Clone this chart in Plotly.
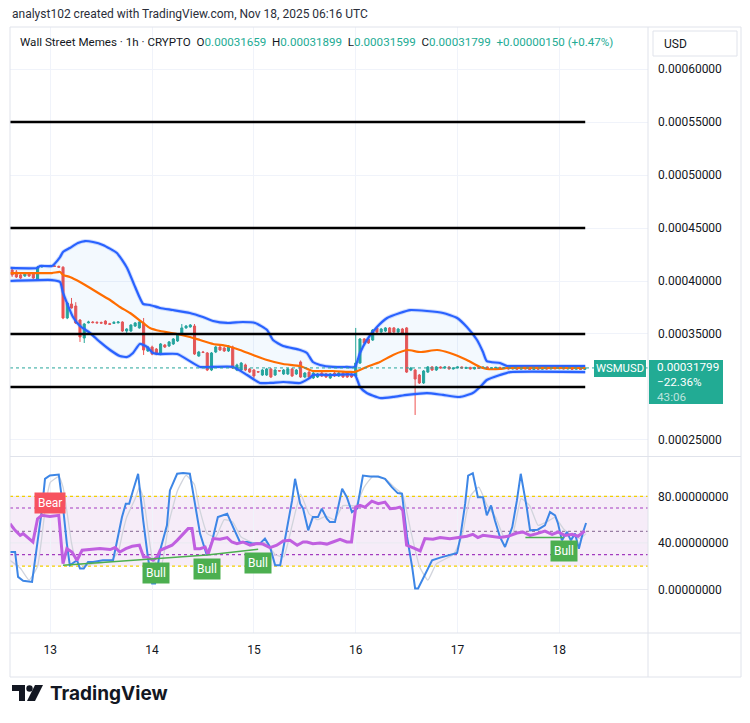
import plotly.graph_objects as go

# ---------------------------------------------------------------- data
# Hourly candles. Hour 0 = 13 Nov 2025 00:00 UTC. Prices in units of 1e-7 USD.
PRICE_UNIT = 1e-7
first_hour = -9

open_e7 = [
    4104, 4085, 4057, 4047, 4075, 4066, 4009, 4132, 4137, 4140,
    4142, 4138, 4130, 3651, 3783, 3764, 3632, 3462, 3605, 3613,
    3610, 3608, 3622, 3596, 3600, 3605, 3613, 3528, 3528, 3575,
    3557, 3604, 3340, 3377, 3358, 3311, 3396, 3387, 3406, 3434,
    3491, 3557, 3566, 3575, 3292, 3330, 3321, 3160, 3330, 3377,
    3368, 3340, 3377, 3160, 3160, 3208, 3170, 3160, 3145, 3113,
    3113, 3170, 3113, 3155, 3123, 3123, 3170, 3123, 3236, 3094,
    3141, 3085, 3094, 3132, 3123, 3085, 3132, 3104, 3132, 3132,
    3123, 3104, 3226, 3453, 3453, 3443, 3557, 3519, 3528, 3557,
    3557, 3519, 3547, 3557, 3160, 3160, 3113, 3038, 3141, 3189,
    3160, 3189, 3179, 3189, 3170, 3179, 3189, 3175, 3185, 3170,
    3185, 3175, 3189, 3170, 3179, 3185, 3175, 3182, 3170, 3180,
    3168, 3182, 3175, 3165, 3179, 3168, 3180, 3170, 3182, 3172,
    3183, 3170, 3178, 3168, 3176, 3165.9]
high_e7 = [
    4123, 4104, 4066, 4085, 4085, 4075, 4142, 4145, 4150, 4152,
    4150, 4145, 4140, 3800, 3840, 3800, 3640, 3604, 3625, 3622,
    3620, 3618, 3630, 3605, 3620, 3622, 3620, 3555, 3592, 3613,
    3622, 3651, 3385, 3390, 3368, 3415, 3406, 3434, 3462, 3500,
    3594, 3585, 3594, 3594, 3340, 3340, 3330, 3330, 3390, 3390,
    3380, 3396, 3390, 3220, 3236, 3220, 3180, 3170, 3150, 3170,
    3180, 3180, 3170, 3160, 3170, 3180, 3180, 3170, 3250, 3141,
    3150, 3141, 3132, 3141, 3132, 3132, 3141, 3141, 3141, 3141,
    3132, 3557, 3462, 3462, 3462, 3547, 3566, 3557, 3566, 3566,
    3566, 3557, 3557, 3566, 3189, 3170, 3123, 3160, 3198, 3198,
    3198, 3195, 3195, 3195, 3186, 3195, 3194, 3190, 3190, 3190,
    3190, 3194, 3194, 3185, 3190, 3190, 3188, 3188, 3186, 3185,
    3188, 3187, 3180, 3185, 3184, 3186, 3185, 3188, 3187, 3188,
    3188, 3184, 3183, 3182, 3181, 3189.9]
low_e7 = [
    4038, 4028, 4019, 4038, 4038, 4019, 4000, 4128, 4132, 4135,
    4132, 4125, 3640, 3640, 3740, 3594, 3425, 3415, 3600, 3600,
    3598, 3596, 3588, 3588, 3596, 3600, 3520, 3510, 3520, 3566,
    3550, 3302, 3330, 3300, 3300, 3300, 3368, 3377, 3396, 3425,
    3485, 3550, 3560, 3302, 3285, 3320, 3150, 3150, 3320, 3340,
    3330, 3330, 3170, 3150, 3150, 3150, 3132, 3085, 3135, 3104,
    3104, 3085, 3104, 3145, 3113, 3113, 3094, 3113, 3085, 3085,
    3085, 3075, 3085, 3094, 3085, 3075, 3094, 3094, 3085, 3085,
    3085, 3094, 3217, 3406, 3406, 3434, 3510, 3510, 3519, 3500,
    3510, 3510, 3500, 3132, 3150, 2736, 3028, 3028, 3132, 3151,
    3151, 3175, 3172, 3165, 3165, 3175, 3172, 3170, 3165, 3166,
    3170, 3170, 3165, 3165, 3175, 3170, 3170, 3165, 3166, 3163,
    3164, 3166, 3160, 3160, 3163, 3164, 3165, 3166, 3168, 3168,
    3166, 3166, 3163, 3164, 3161, 3159.9]
close_e7 = [
    4057, 4038, 4028, 4075, 4047, 4028, 4132, 4137, 4141, 4142,
    4138, 4130, 3651, 3792, 3745, 3604, 3472, 3594, 3613, 3608,
    3605, 3603, 3594, 3592, 3610, 3613, 3528, 3547, 3585, 3604,
    3613, 3349, 3377, 3311, 3311, 3406, 3377, 3425, 3453, 3491,
    3557, 3575, 3585, 3311, 3330, 3326, 3160, 3321, 3377, 3349,
    3340, 3387, 3179, 3208, 3226, 3160, 3141, 3104, 3141, 3160,
    3170, 3094, 3160, 3151, 3160, 3170, 3104, 3160, 3094, 3132,
    3094, 3132, 3123, 3104, 3094, 3123, 3104, 3132, 3094, 3094,
    3094, 3226, 3453, 3415, 3415, 3538, 3519, 3547, 3557, 3509,
    3519, 3547, 3509, 3141, 3179, 3075, 3038, 3151, 3189, 3160,
    3189, 3179, 3189, 3170, 3179, 3189, 3179, 3185, 3170, 3185,
    3175, 3189, 3170, 3179, 3185, 3175, 3182, 3170, 3180, 3168,
    3182, 3170, 3165, 3179, 3168, 3180, 3170, 3182, 3172, 3183,
    3170, 3178, 3168, 3176, 3166, 3179.9]

# Bollinger Bands (20, 2), (hour, price e7)
bb_upper_hours = [-9.5, -3.1, -2.4, 0.4, 2.3, 3.0, 4.6, 6.5, 8.2, 10.1, 12.4, 15.7, 18.1,
                  20.0, 21.9, 23.5, 25.9, 28.9, 32.9, 36.0, 38.4, 41.7, 45.4, 48.3, 51.1,
                  52.5, 54.9, 58.9, 60.5, 61.9, 63.6, 66.6, 69.9, 71.8, 73.0, 74.6, 77.0,
                  79.4, 82.4, 84.8, 88.8, 92.6, 95.9, 98.2, 100.6, 102.0, 102.9, 106.0,
                  107.7, 109.1, 126.1]
bb_upper = [4123, 4123, 4142, 4142, 4226, 4274, 4311, 4358, 4377, 4368, 4340, 4264, 4123,
            3943, 3783, 3774, 3745, 3726, 3698, 3660, 3623, 3604, 3613, 3604, 3538,
            3443, 3387, 3349, 3321, 3236, 3208, 3189, 3189, 3189, 3321, 3443, 3566,
            3651, 3698, 3726, 3717, 3698, 3651, 3566, 3443, 3330, 3245, 3226,
            3198, 3198, 3198]
bb_basis_hours = [-9.5, 0.4, 2.3, 3.0, 4.6, 7.0, 9.4, 11.7, 14.1, 16.4, 18.8, 21.9, 23.5,
                  25.9, 29.9, 32.9, 35.3, 38.4, 41.7, 44.7, 47.8, 51.1, 54.9, 58.9, 61.9,
                  66.6, 70.7, 71.8, 74.6, 77.7, 80.8, 84.1, 87.2, 91.2, 94.2, 98.2, 101.3,
                  102.9, 106.0, 107.7, 126.1]
bb_basis = [4075, 4075, 4085, 4057, 4038, 3991, 3934, 3877, 3821, 3755, 3698, 3604, 3557,
            3528, 3500, 3472, 3443, 3406, 3387, 3349, 3302, 3255, 3217, 3198, 3151,
            3151, 3142, 3142, 3189, 3236, 3302, 3349, 3330, 3349, 3321, 3255, 3189,
            3170, 3170, 3179, 3179]
bb_lower_hours = [-9.5, 0.4, 2.3, 3.0, 5.35, 7.0, 9.4, 11.7, 14.1, 16.4, 18.1, 19.5, 21.1,
                  22.8, 24.2, 25.9, 29.9, 35.3, 38.4, 43.1, 46.4, 49.4, 51.8, 54.9, 58.9,
                  61.2, 61.9, 66.2, 71.8, 73.0, 74.6, 77.7, 80.8, 84.1, 88.8, 92.6, 96.6,
                  99.6, 101.3, 102.9, 106.0, 108.4, 126.1]
bb_lower = [4000, 4009, 3991, 3887, 3660, 3575, 3509, 3425, 3349, 3292, 3283, 3321, 3406,
            3377, 3321, 3311, 3311, 3189, 3189, 3189, 3113, 3038, 3038, 3047, 3038,
            3085, 3113, 3113, 3113, 3000, 2943, 2896, 2906, 2925, 2943, 2925, 2906,
            2943, 3000, 3066, 3113, 3141, 3141]

# horizontal levels drawn on the chart
level_prices = [0.00055, 0.00045, 0.00035, 0.00030]
level_start_hour, level_end_hour = -9.5, 126.1

# RSI (14)
rsi_hours = [-9.5, -8.3, -7.1, -6.4, -5.3, -4.1, -3.0, -2.0, -0.1, 2.0, 3.0, 3.9, 5.1, 6.3,
             7.5, 8.9, 11.7, 14.1, 15.3, 16.4, 17.8, 19.3, 21.0, 22.0, 22.8, 24.2, 25.2,
             25.9, 27.5, 28.7, 29.9, 31.0, 32.5, 33.4, 34.1, 35.3, 36.5, 37.2, 38.4, 40.0,
             41.7, 42.8, 44.0, 45.4, 47.1, 48.7, 50.1, 51.8, 53.4, 54.9, 56.5, 58.2, 59.6,
             60.5, 61.9, 63.6, 65.2, 66.6, 68.3, 69.9, 71.0, 72.0, 73.0, 74.2, 75.8, 77.3,
             78.9, 80.1, 81.3, 82.4, 83.1, 84.0, 84.8, 86.0, 87.2, 88.3, 90.2, 91.9, 94.2,
             96.6, 98.2, 99.6, 100.8, 102.0, 103.6, 106.0, 107.9, 110.0, 111.4, 113.1,
             114.7, 116.6, 118.3, 119.7, 121.3, 123.0, 124.4, 126.0]
rsi_values = [56.5, 50.8, 46.5, 48.0, 44.6, 40.8, 60.8, 63.7, 62.8, 63.7, 22.3, 35.1, 32.2, 25.1,
              33.7, 34.3, 35.1, 34.3, 36.0, 32.2, 35.1, 37.1, 38.0, 27.9, 27.9, 25.1, 27.9,
              33.7, 36.0, 38.0, 42.2, 46.5, 52.3, 52.3, 35.1, 35.1, 36.5, 30.2, 43.7, 43.1,
              44.6, 40.8, 39.4, 40.8, 38.0, 39.4, 39.0, 36.0, 38.0, 41.7, 42.2, 38.0, 40.8,
              40.8, 39.4, 40.0, 39.0, 40.8, 43.1, 40.8, 40.8, 70.8, 72.2, 70.8, 75.9, 73.7,
              75.1, 69.4, 69.7, 70.8, 68.0, 38.0, 37.1, 35.1, 33.1, 43.7, 43.1, 44.6, 43.7,
              44.6, 45.7, 47.4, 44.6, 46.5, 45.7, 44.6, 45.7, 48.5, 49.4, 46.5,
              48.0, 50.2, 47.4, 49.4, 46.5, 47.4, 45.7, 50.2]

# Stochastic RSI %K and %D
stoch_k_hours = [-9.5, -8.3, -7.6, -6.4, -4.3, -2.9, -2.0, -1.25, -0.1, 2.0, 3.0, 3.9, 4.6, 6.3,
                 7.0, 7.9, 8.9, 10.1, 12.4, 14.8, 15.7, 16.9, 17.8, 18.6, 19.5, 20.7, 21.9,
                 23.0, 24.0, 24.7, 25.9, 27.5, 28.2, 29.9, 31.3, 32.9, 34.1, 35.3, 36.9, 38.1,
                 39.5, 41.7, 43.1, 44.7, 46.4, 47.8, 49.4, 50.6, 51.8, 53.0, 54.2, 55.8, 57.0,
                 57.7, 58.9, 59.6, 60.8, 61.9, 63.1, 64.0, 65.2, 65.9, 67.1, 68.8, 69.9, 71.1,
                 72.3, 73.7, 75.4, 77.3, 78.9, 80.5, 81.9, 82.9, 84.1, 85.3, 86.0, 86.7, 88.3,
                 90.0, 91.9, 93.8, 95.9, 96.6, 97.8, 98.5, 99.6, 100.8, 102.0, 102.9, 103.9,
                 104.8, 106.0, 107.2, 108.9, 110.0, 110.9, 112.3, 113.1, 114.9, 116.6, 117.8,
                 119.0, 119.7, 120.6, 121.8, 122.7, 123.7, 124.6, 125.6, 126.3]
stoch_k = [32.2, 32.2, 10.8, 7.4, 6.5, 45.1, 68.0, 95.1, 97.9, 98.8, 70.8, 39.4, 20.8, 25.1,
           18.0, 18.0, 23.7, 23.7, 25.1, 25.1, 42.2, 62.2, 73.7, 73.7, 85.1, 99.4, 59.4,
           27.9, 5.1, 5.1, 33.7, 55.1, 85.1, 99.4, 100.0, 99.4, 73.7, 48.0, 29.4, 40.8,
           62.2, 65.1, 53.6, 40.8, 40.8, 39.4, 39.4, 43.7, 36.5, 20.8, 20.8, 53.6, 76.5,
           95.1, 73.7, 69.4, 50.8, 62.2, 62.2, 69.4, 60.8, 57.9, 57.9, 86.5, 79.3, 66.5,
           69.4, 97.9, 97.1, 97.1, 95.1, 87.9, 82.8, 82.3, 45.1, 19.4, 0.9, 0.9, 12.3,
           25.1, 27.4, 29.4, 31.4, 43.7, 73.7, 97.9, 99.9, 79.3, 79.3, 63.7, 72.2,
           59.4, 45.1, 36.5, 53.6, 76.5, 99.4, 70.8, 50.8, 51.4, 55.1, 66.5,
           63.7, 56.5, 42.2, 49.4, 42.2, 48.0, 35.1, 49.4, 57.1]
stoch_d_hours = [-9.5, -7, -5, -3, -2, -1, 0, 2, 3, 4, 5, 6, 8, 10, 14, 16, 17, 18, 20, 21, 22,
                 23, 24, 26, 27, 28, 30, 32, 34, 35, 37, 39, 41, 43, 45, 48, 51, 53, 55, 57,
                 59, 61, 63, 65, 67, 69, 71, 72, 74, 76, 79, 81, 83, 85, 87, 89, 91, 95, 97,
                 99, 101, 103, 105, 107, 109, 111, 113, 115, 117, 119, 121, 123, 125, 126.3]
stoch_d = [25, 18, 8, 20, 45, 75, 92, 97, 88, 65, 40, 25, 20, 22, 24, 32, 48, 62, 78, 88, 78,
           52, 28, 18, 35, 58, 85, 98, 90, 72, 48, 45, 60, 58, 45, 40, 40, 30, 28, 55,
           82, 65, 60, 63, 60, 72, 72, 72, 88, 97, 95, 88, 82, 50, 20, 8, 22, 30, 45,
           80, 88, 72, 62, 45, 48, 78, 72, 55, 58, 62, 52, 46, 44, 48]

# Divergence marks: pivot lines and label pivots (hour, RSI value)
bull_line_hours = [3, 25, 37, 49]
bull_line_values = [20.8, 26.6, 29.6, 34.5]
bull_line2_hours = [112, 121]
bull_line2_values = [44.7, 44.7]
bull_label_hours = [25, 37, 49, 121]
bull_label_values = [26.6, 29.6, 34.5, 44.7]
bear_label_hour, bear_label_value = 0, 62.8

# axis tick data (0.00030000 label is hidden behind the last-price box)
day_hours = [0, 24, 48, 72, 96, 120]
day_labels = ["13", "14", "15", "16", "17", "18"]
price_ticks = [0.00025, 0.00035, 0.00040, 0.00045, 0.00050, 0.00055, 0.00060]
osc_ticks = [0, 40, 80]
osc_bands = {"upper_stoch": 80, "lower_stoch": 20, "upper_rsi": 70, "lower_rsi": 30, "mid": 50}

symbol_text = "Wall Street Memes · 1h · CRYPTO"
ohlc_last = dict(O="0.00031659", H="0.00031899", L="0.00031599", C="0.00031799")
change_text = "+0.00000150 (+0.47%)"
header_text = "analyst102 created with TradingView.com, Nov 18, 2025 06:16 UTC"
last_change_pct = "−22.36%"
countdown = "43:06"
ticker = "WSMUSD"

# ---------------------------------------------------------------- figure
def P(vals):
    return [v * PRICE_UNIT for v in vals]

hours = [first_hour + i for i in range(len(close_e7))]
last_price = close_e7[-1] * PRICE_UNIT

GREEN, RED = "#26a69a", "#ef5350"
BB_BLUE, BB_ORANGE = "#2962ff", "#ff6d00"
GRID = "#f0f3fa"
BORDER = "#e0e3eb"
TXT = "#131722"

fig = go.Figure()

fig.add_trace(go.Candlestick(
    x=hours, open=P(open_e7), high=P(high_e7), low=P(low_e7), close=P(close_e7),
    increasing=dict(line=dict(color=GREEN, width=1), fillcolor=GREEN),
    decreasing=dict(line=dict(color=RED, width=1), fillcolor=RED),
    whiskerwidth=0, xaxis="x", yaxis="y", hoverinfo="skip"))

poly_x = bb_upper_hours + bb_lower_hours[::-1]
poly_y = P(bb_upper) + P(bb_lower[::-1])
fig.add_trace(go.Scatter(x=poly_x, y=poly_y, fill="toself", fillcolor="rgba(33,150,243,0.055)",
                         mode="lines", line=dict(width=0), xaxis="x", yaxis="y", hoverinfo="skip"))
for hx, vals in [(bb_upper_hours, bb_upper), (bb_lower_hours, bb_lower)]:
    fig.add_trace(go.Scatter(x=hx, y=P(vals), mode="lines",
                             line=dict(color="rgba(41,98,255,0.22)", width=4, shape="spline", smoothing=0.5),
                             xaxis="x", yaxis="y", hoverinfo="skip"))
    fig.add_trace(go.Scatter(x=hx, y=P(vals), mode="lines",
                             line=dict(color=BB_BLUE, width=2.2, shape="spline", smoothing=0.5),
                             xaxis="x", yaxis="y", hoverinfo="skip"))
fig.add_trace(go.Scatter(x=bb_basis_hours, y=P(bb_basis), mode="lines",
                         line=dict(color=BB_ORANGE, width=2.2, shape="spline", smoothing=0.5),
                         xaxis="x", yaxis="y", hoverinfo="skip"))

# oscillator pane
fig.add_trace(go.Scatter(x=stoch_d_hours, y=stoch_d, mode="lines",
                         line=dict(color="#d1d4dc", width=1.3, shape="spline", smoothing=0.4),
                         xaxis="x2", yaxis="y2", hoverinfo="skip"))
fig.add_trace(go.Scatter(x=stoch_k_hours, y=stoch_k, mode="lines",
                         line=dict(color="#3d86e6", width=2),
                         xaxis="x2", yaxis="y2", hoverinfo="skip"))
fig.add_trace(go.Scatter(x=rsi_hours, y=rsi_values, mode="lines",
                         line=dict(color="#c05fe0", width=3),
                         xaxis="x2", yaxis="y2", hoverinfo="skip"))
fig.add_trace(go.Scatter(x=bull_line_hours, y=bull_line_values, mode="lines",
                         line=dict(color="#4caf50", width=1.6), xaxis="x2", yaxis="y2", hoverinfo="skip"))
fig.add_trace(go.Scatter(x=bull_line2_hours, y=bull_line2_values, mode="lines",
                         line=dict(color="#4caf50", width=1.6), xaxis="x2", yaxis="y2", hoverinfo="skip"))

# ---------------------------------------------------------------- layout helpers (pixel -> paper)
def X(px):
    return (px - 10) / 638.0

def Y(py):
    return (633 - py) / 606.0

shapes = []
# oscillator background, grid lines and bands (grid drawn as shapes so dotted bands sit on top)
shapes.append(dict(type="rect", xref="x2 domain", yref="y2", x0=0, x1=1,
                   y0=osc_bands["lower_stoch"], y1=osc_bands["upper_stoch"],
                   fillcolor="rgba(156,39,176,0.085)", line=dict(width=0), layer="below"))
for t in osc_ticks:
    shapes.append(dict(type="line", xref="x2 domain", yref="y2", x0=0, x1=1, y0=t, y1=t,
                       line=dict(color="#e9ebf1", width=1), layer="below"))
for key, col in [("upper_stoch", "#f2cf00"), ("lower_stoch", "#f2cf00"),
                 ("upper_rsi", "#a33bbf"), ("lower_rsi", "#a33bbf"), ("mid", "#9a7fa5")]:
    shapes.append(dict(type="line", xref="x2 domain", yref="y2", x0=0, x1=1,
                       y0=osc_bands[key], y1=osc_bands[key],
                       line=dict(color=col, width=1.2, dash="dot"), layer="below"))
# levels
for lv in level_prices:
    shapes.append(dict(type="line", xref="x", yref="y", x0=level_start_hour, x1=level_end_hour,
                       y0=lv, y1=lv, line=dict(color="#000000", width=2.6), layer="above"))
# last price line
shapes.append(dict(type="line", xref="x domain", yref="y", x0=0, x1=1, y0=last_price, y1=last_price,
                   line=dict(color=GREEN, width=1, dash="dot"), layer="above"))
# frame
shapes.append(dict(type="rect", xref="paper", yref="paper", x0=X(10), x1=X(741), y0=Y(677), y1=Y(27),
                   line=dict(color=BORDER, width=1)))
shapes.append(dict(type="line", xref="paper", yref="paper", x0=X(648), x1=X(648), y0=Y(677), y1=Y(27),
                   line=dict(color=BORDER, width=1)))
shapes.append(dict(type="line", xref="paper", yref="paper", x0=X(10), x1=X(741), y0=Y(633), y1=Y(633),
                   line=dict(color=BORDER, width=1)))
shapes.append(dict(type="line", xref="paper", yref="paper", x0=X(10), x1=X(741), y0=Y(456.5), y1=Y(456.5),
                   line=dict(color=BORDER, width=1)))
# USD box
shapes.append(dict(type="rect", xref="paper", yref="paper", x0=X(653), x1=X(737), y0=Y(56), y1=Y(31),
                   line=dict(color=BORDER, width=1), fillcolor="white"))
# ticker + price label boxes
shapes.append(dict(type="rect", xref="paper", yref="paper", x0=X(594), x1=X(646), y0=Y(377), y1=Y(360),
                   line=dict(width=0), fillcolor="#22ab94", layer="above"))
shapes.append(dict(type="rect", xref="paper", yref="paper", x0=X(649), x1=X(723), y0=Y(404), y1=Y(360),
                   line=dict(width=0), fillcolor="#22ab94", layer="above"))
# TradingView logo mark
def path(pts):
    return "M " + " L ".join(f"{X(a):.5f},{Y(b):.5f}" for a, b in pts) + " Z"

shapes.append(dict(type="path", xref="paper", yref="paper",
                   path=path([(12, 685), (25, 685), (25, 701), (19, 701), (19, 691), (12, 691)]),
                   fillcolor=TXT, line=dict(width=0)))
shapes.append(dict(type="circle", xref="paper", yref="paper", x0=X(26.3), x1=X(32.7), y0=Y(691.7), y1=Y(685.3),
                   fillcolor=TXT, line=dict(width=0)))
shapes.append(dict(type="path", xref="paper", yref="paper",
                   path=path([(35, 685), (43, 685), (35, 701), (27, 701)]),
                   fillcolor=TXT, line=dict(width=0)))

annotations = []
annotations.append(dict(xref="paper", yref="paper", x=X(10), y=Y(14), xanchor="left", yanchor="middle",
                        text=header_text, showarrow=False, font=dict(size=12, color="#2a2e39")))
teal = "#22ab94"
legend_html = (symbol_text + "&nbsp;&nbsp;"
               + "&nbsp;&nbsp;".join(f"{k}<span style='color:{teal}'>{v}</span>" for k, v in ohlc_last.items())
               + f"&nbsp;&nbsp;<span style='color:{teal}'>{change_text}</span>")
annotations.append(dict(xref="paper", yref="paper", x=X(18), y=Y(42), xanchor="left", yanchor="middle",
                        text=legend_html, showarrow=False, font=dict(size=11.6, color=TXT)))
annotations.append(dict(xref="paper", yref="paper", x=X(662), y=Y(43.5), xanchor="left", yanchor="middle",
                        text="USD", showarrow=False, font=dict(size=12, color=TXT)))
annotations.append(dict(xref="paper", yref="paper", x=X(620), y=Y(368.5), xanchor="center", yanchor="middle",
                        text=ticker, showarrow=False, font=dict(size=11.3, color="white")))
price_box_html = (f"{last_price:.8f}<br>{last_change_pct}<br>"
                  f"<span style='color:rgba(255,255,255,0.7)'>{countdown}</span>")
annotations.append(dict(xref="paper", yref="paper", x=X(655), y=Y(382), xanchor="left", yanchor="middle",
                        text=price_box_html, showarrow=False, align="left",
                        font=dict(size=11.7, color="white")))
annotations.append(dict(xref="paper", yref="paper", x=X(48), y=Y(693), xanchor="left", yanchor="middle",
                        text="<b>TradingView</b>", showarrow=False,
                        font=dict(size=19, color=TXT, family="Inter, Roboto, sans-serif")))
# divergence labels
annotations.append(dict(xref="x2", yref="y2", x=bear_label_hour, y=bear_label_value, yshift=2,
                        xanchor="center", yanchor="bottom", text="Bear", showarrow=False,
                        bgcolor="#f7525f", borderpad=3, font=dict(size=12, color="white")))
for hx, vv in zip(bull_label_hours, bull_label_values):
    annotations.append(dict(xref="x2", yref="y2", x=hx, y=vv, yshift=-3,
                            xanchor="center", yanchor="top", text="Bull", showarrow=False,
                            bgcolor="#4caf50", borderpad=3, font=dict(size=12, color="white")))

axis_common = dict(showline=False, zeroline=False, gridcolor=GRID, gridwidth=1, ticks="")
fig.update_layout(
    width=750, height=723, margin=dict(l=10, r=102, t=27, b=90),
    paper_bgcolor="white", plot_bgcolor="white", showlegend=False,
    font=dict(family="Roboto, Liberation Sans, sans-serif", size=12, color=TXT),
    xaxis=dict(domain=[0, 1], anchor="y", range=[-9.5, 140.9], tickvals=day_hours,
               showticklabels=False, showgrid=True, rangeslider=dict(visible=False), **axis_common),
    xaxis2=dict(domain=[0, 1], anchor="y2", range=[-9.5, 140.9], matches="x", tickvals=day_hours,
                ticktext=day_labels, showgrid=True, ticklabelstandoff=8,
                tickfont=dict(size=12, color=TXT), **axis_common),
    yaxis=dict(domain=[Y(456), 1], side="right", range=[0.00023490, 0.00063962], tickvals=price_ticks,
               tickformat=".8f", showgrid=True, ticklabelstandoff=9,
               tickfont=dict(size=12, color=TXT), **axis_common),
    yaxis2=dict(domain=[0, Y(457.5)], side="right", range=[-37.4, 113.4], tickvals=osc_ticks,
                tickformat=".8f", showgrid=False, ticklabelstandoff=9,
                tickfont=dict(size=12, color=TXT), **axis_common),
    shapes=shapes, annotations=annotations,
)

fig.write_html("out.html")
